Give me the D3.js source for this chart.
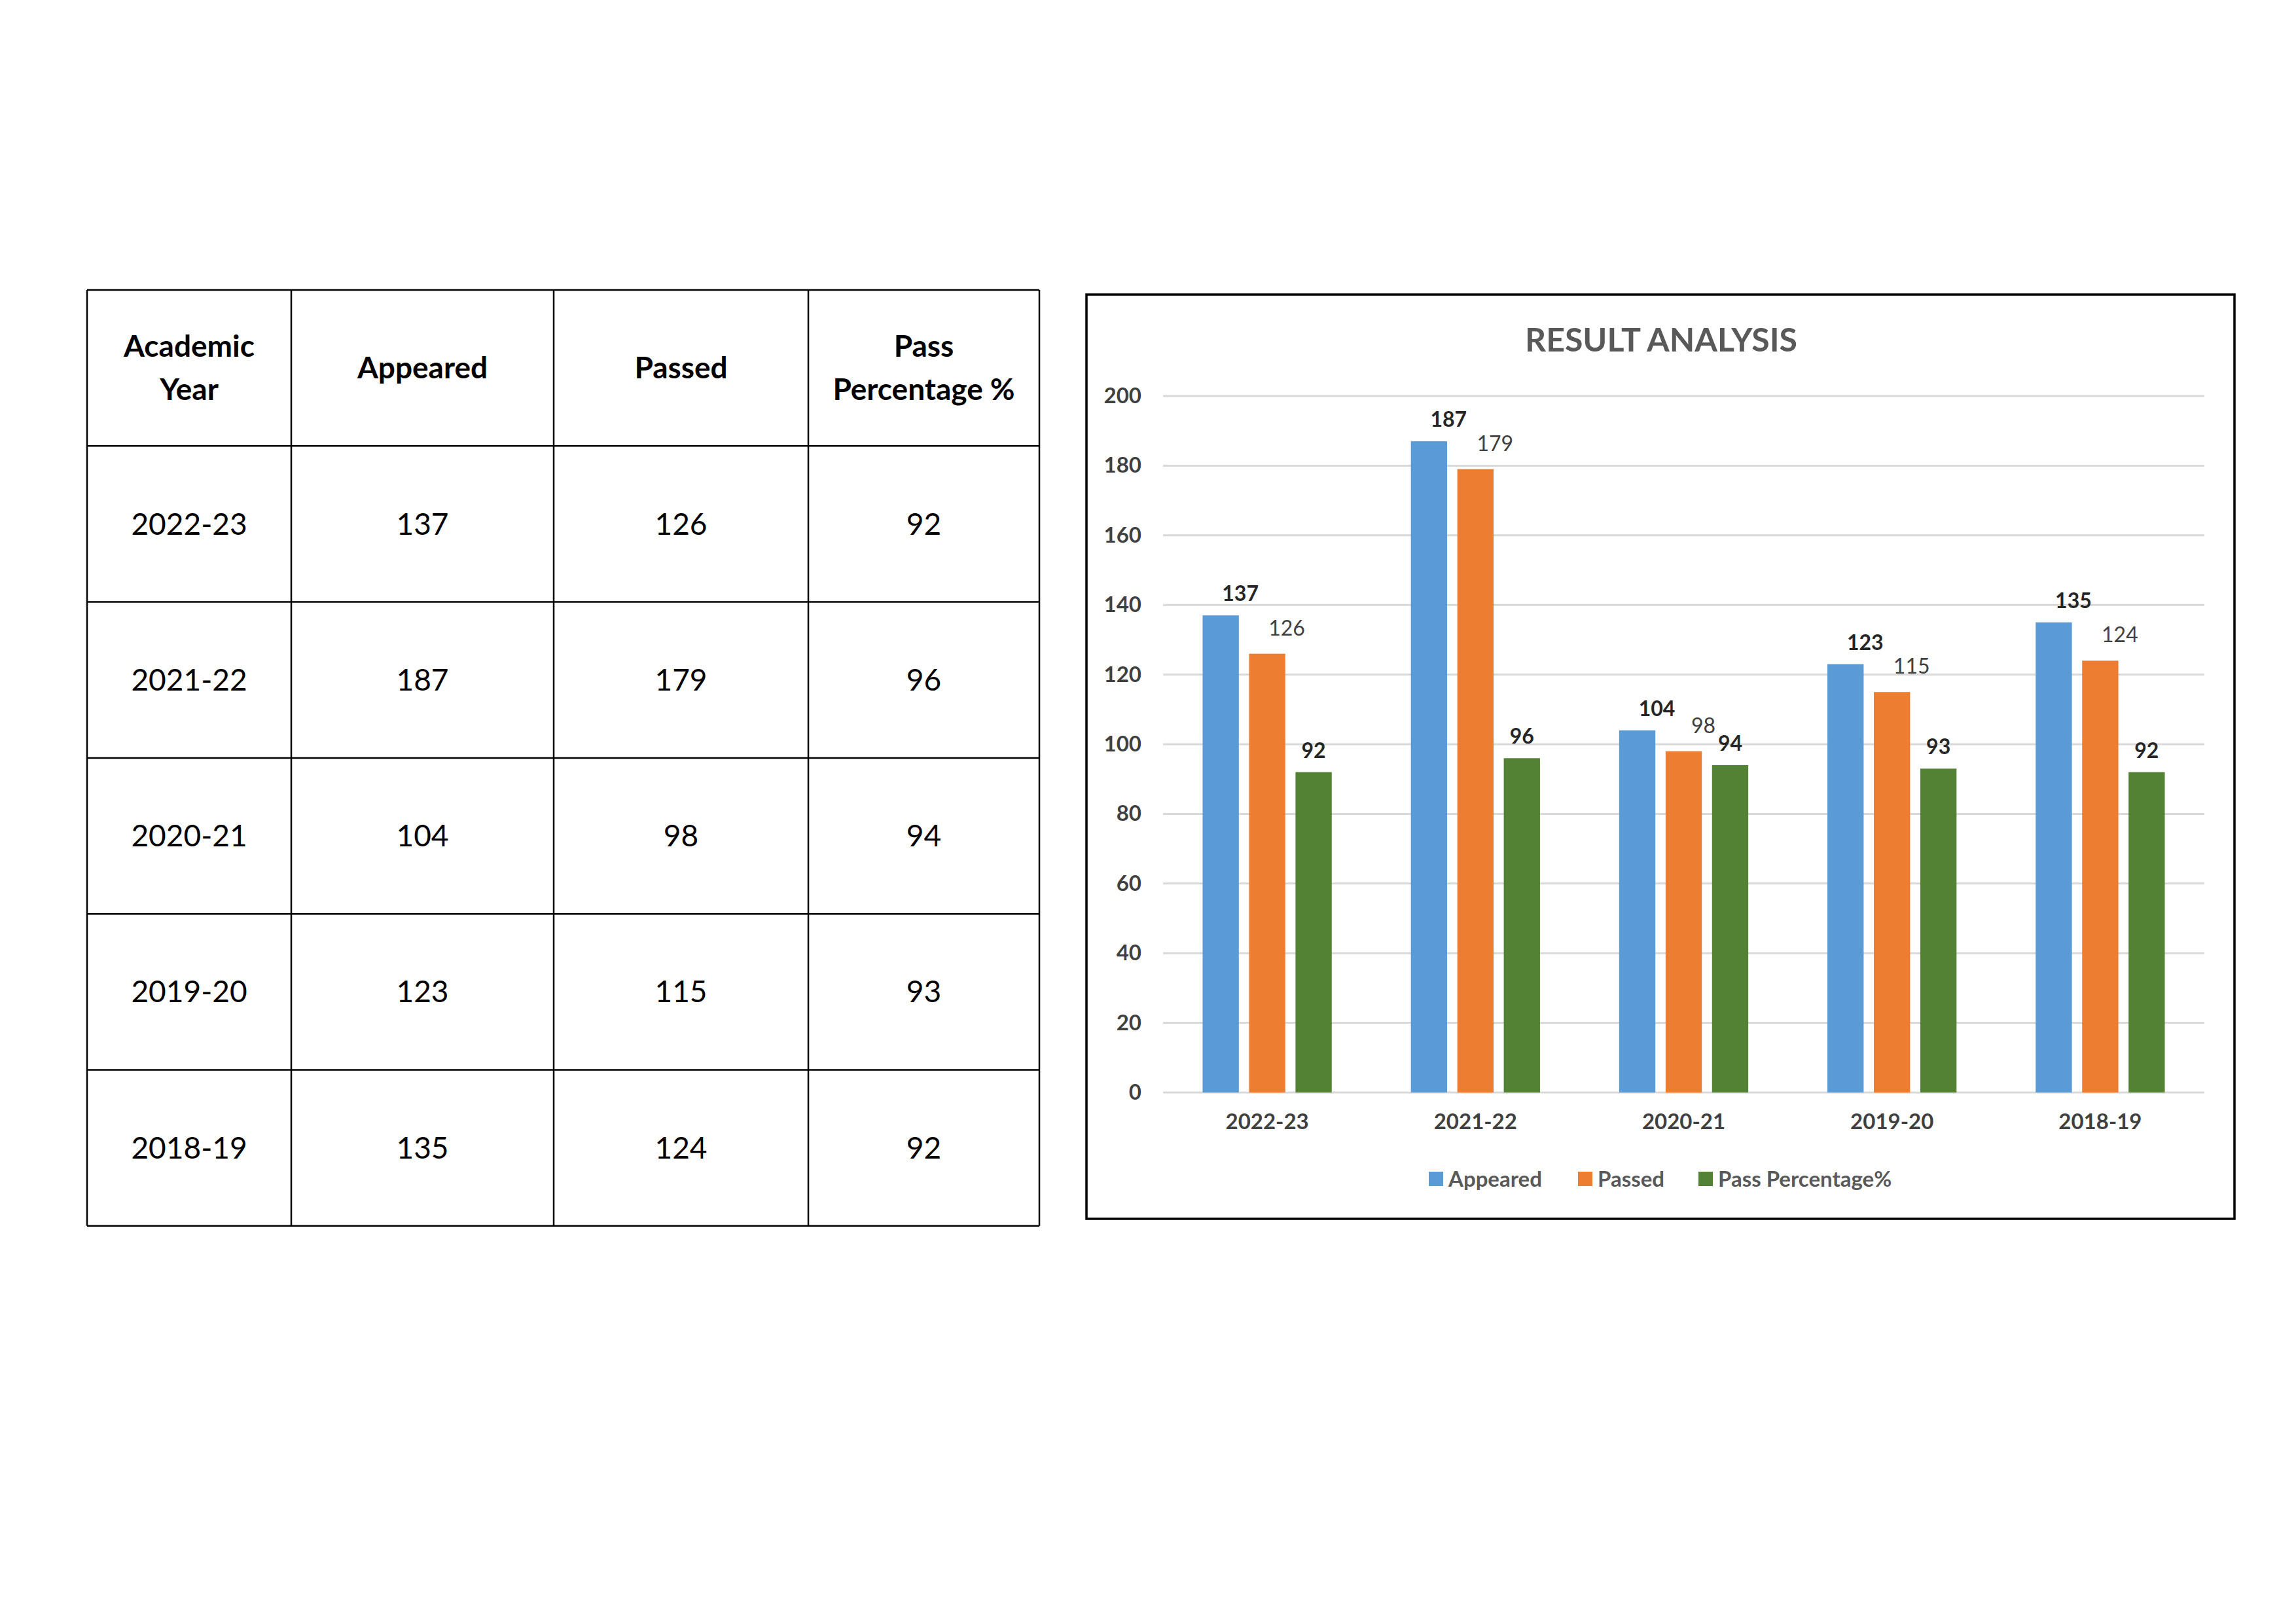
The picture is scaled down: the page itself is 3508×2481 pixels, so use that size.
<!DOCTYPE html>
<html><head><meta charset="utf-8">
<script src="https://cdn.jsdelivr.net/npm/d3@7"></script>
<style>body{margin:0;background:#fff}</style>
</head><body>
<svg id="page" width="3508" height="2481"></svg>
<script>
// data
var years = ["2022-23", "2021-22", "2020-21", "2019-20", "2018-19"];
var appeared = [137, 187, 104, 123, 135];
var passed = [126, 179, 98, 115, 124];
var passPct = [92, 96, 94, 93, 92];
var headers = ["Academic\nYear", "Appeared", "Passed", "Pass\nPercentage %"];
var seriesNames = ["Appeared", "Passed", "Pass Percentage%"];
var yTicks = [0, 20, 40, 60, 80, 100, 120, 140, 160, 180, 200];

var blue = "#5B9BD5", orange = "#ED7D31", green = "#548235";
var font = "Lato, 'Open Sans', sans-serif";
var svg = d3.select("#page");

// ---- table
var colX = [133, 445, 846, 1235, 1588];
var rowY = d3.range(7).map(function (i) { return 443 + i * 238.3; });
var tbl = svg.append("g");
var rows = [headers].concat(years.map(function (yr, i) {
    return [yr, appeared[i], passed[i], passPct[i]];
}));
rows.forEach(function (r, ri) {
    r.forEach(function (v, ci) {
        var cx = (colX[ci] + colX[ci + 1]) / 2, cy = (rowY[ri] + rowY[ri + 1]) / 2;
        var lines = String(v).split("\n");
        lines.forEach(function (l, li) {
            tbl.append("text")
                .attr("x", cx).attr("y", cy + (li - (lines.length - 1) / 2) * 66)
                .attr("dy", "0.35em").attr("text-anchor", "middle")
                .attr("font-family", font).attr("font-size", 46)
                .attr("font-weight", ri == 0 ? "bold" : "normal")
                .attr("fill", "#000").text(l);
        });
    });
});
colX.forEach(function (cx) {
    tbl.append("line").attr("x1", cx).attr("x2", cx).attr("y1", rowY[0]).attr("y2", rowY[6])
        .attr("stroke", "#000").attr("stroke-width", 2.5);
});
rowY.forEach(function (ry) {
    tbl.append("line").attr("x1", colX[0]).attr("x2", colX[4]).attr("y1", ry).attr("y2", ry)
        .attr("stroke", "#000").attr("stroke-width", 2.5);
});

// ---- chart
svg.append("rect").attr("x", 1660).attr("y", 450).attr("width", 1754).attr("height", 1412)
    .attr("fill", "#fff").attr("stroke", "#000").attr("stroke-width", 3.5);

svg.append("text").attr("x", 2538).attr("y", 519).attr("dy", "0.35em")
    .attr("text-anchor", "middle").attr("font-family", font).attr("font-size", 50)
    .attr("font-weight", "bold").attr("fill", "#595959").text("RESULT ANALYSIS");

var plotLeft = 1777, plotRight = 3368, plotTop = 605, plotBottom = 1669;
var x0 = d3.scaleBand().domain(years).range([plotLeft, plotRight]).paddingInner(0.38).paddingOuter(0.19);
var x1 = d3.scaleBand().domain([0, 1, 2]).range([0, x0.bandwidth()]).paddingInner(0.22);
var y = d3.scaleLinear().domain([0, 200]).range([plotBottom, plotTop]);

var ch = svg.append("g");
ch.selectAll(".grid").data(yTicks).enter().append("line")
    .attr("x1", plotLeft).attr("x2", plotRight)
    .attr("y1", function (d) { return y(d); }).attr("y2", function (d) { return y(d); })
    .attr("stroke", "#D9D9D9").attr("stroke-width", 3);

var yAxis = ch.append("g").attr("transform", "translate(" + (plotLeft - 30) + ",0)")
    .call(d3.axisLeft(y).tickValues(yTicks).tickSize(0));
yAxis.select(".domain").remove();
yAxis.selectAll("text").attr("font-family", font).attr("font-size", 33)
    .attr("font-weight", "bold").attr("fill", "#404040");

var xAxis = ch.append("g").attr("transform", "translate(0," + (plotBottom + 30) + ")")
    .call(d3.axisBottom(x0).tickSize(0));
xAxis.select(".domain").remove();
xAxis.selectAll("text").attr("font-family", font).attr("font-size", 33)
    .attr("font-weight", "bold").attr("fill", "#404040");

var series = [appeared, passed, passPct];
var colors = [blue, orange, green];
series.forEach(function (vals, si) {
    ch.selectAll(".bar" + si).data(vals).enter().append("rect")
        .attr("x", function (d, i) { return x0(years[i]) + x1(si); })
        .attr("y", function (d) { return y(d); })
        .attr("width", x1.bandwidth())
        .attr("height", function (d) { return y(0) - y(d); })
        .attr("fill", colors[si]);
    ch.selectAll(".lab" + si).data(vals).enter().append("text")
        .attr("x", function (d, i) { return x0(years[i]) + x1(si) + x1.bandwidth() / 2 + (si == 2 ? 0 : 30); })
        .attr("y", function (d) { return y(d) - (si == 1 ? 28 : 22); })
        .attr("text-anchor", "middle")
        .attr("font-family", font).attr("font-size", 32)
        .attr("font-weight", si == 1 ? "normal" : "bold")
        .attr("fill", si == 1 ? "#404040" : "#262626")
        .text(function (d) { return d; });
});

// legend
var legX = [2183, 2411, 2595], legY = 1801;
seriesNames.forEach(function (n, i) {
    ch.append("rect").attr("x", legX[i]).attr("y", legY - 11).attr("width", 22).attr("height", 22)
        .attr("fill", colors[i]);
    ch.append("text").attr("x", legX[i] + 30).attr("y", legY).attr("dy", "0.35em")
        .attr("font-family", font).attr("font-size", 33).attr("font-weight", "bold")
        .attr("fill", "#595959").text(n);
});
</script>
</body></html>
